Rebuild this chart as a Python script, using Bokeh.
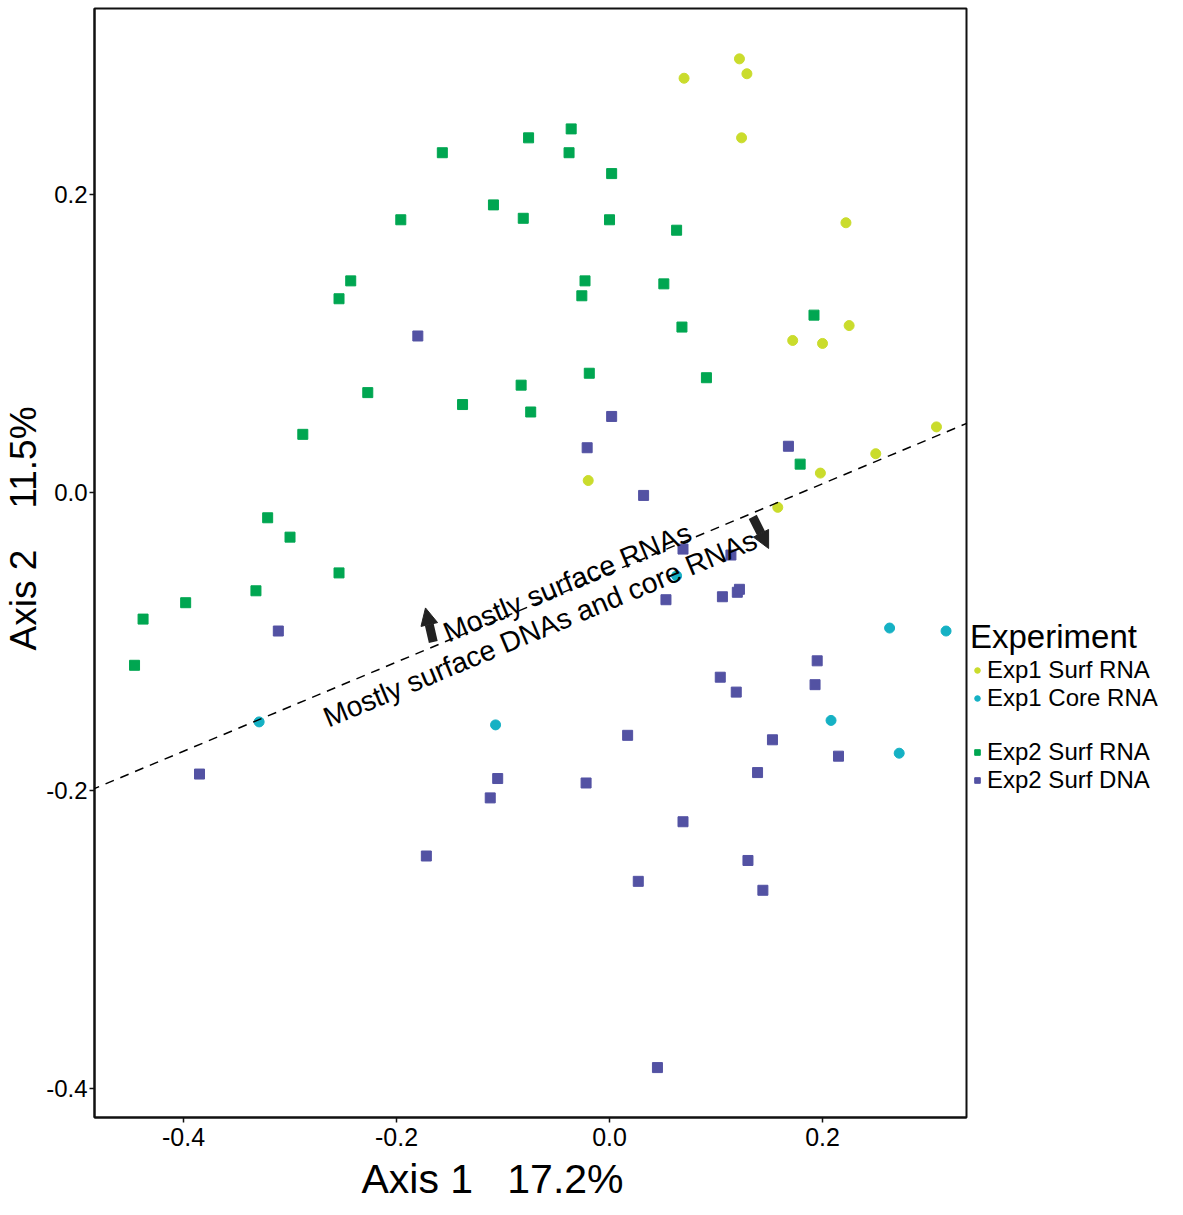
from bokeh.plotting import figure
from bokeh.models import (Range1d, FixedTicker, NumeralTickFormatter, Legend, LegendItem,
                          Slope, Label, Arrow, NormalHead, Title)
from bokeh.embed import file_html
from bokeh.resources import INLINE

# ---- data ----
exp1_surf_x = [0.070, 0.122, 0.129, 0.124, 0.222, 0.172, 0.200, 0.225, 0.307, 0.250, 0.198, 0.158, -0.020]
exp1_surf_y = [0.278, 0.291, 0.281, 0.238, 0.181, 0.102, 0.100, 0.112, 0.044, 0.026, 0.013, -0.010, 0.008]

exp1_core_x = [-0.329, -0.107, 0.063, 0.263, 0.316, 0.208, 0.272]
exp1_core_y = [-0.154, -0.156, -0.056, -0.091, -0.093, -0.153, -0.175]

exp2_rna_x = [-0.076, -0.157, -0.109, -0.081, -0.196, -0.243, -0.254, -0.083, -0.227, -0.138,
              -0.036, -0.038, 0.002, 0.000, 0.063, -0.023, -0.026, 0.051, 0.192, 0.068,
              -0.019, 0.091, -0.074, -0.288, -0.321, -0.300, -0.254, -0.332, -0.398, -0.438,
              -0.446, 0.179]
exp2_rna_y = [0.238, 0.228, 0.193, 0.184, 0.183, 0.142, 0.130, 0.072, 0.067, 0.059,
              0.244, 0.228, 0.214, 0.183, 0.176, 0.142, 0.132, 0.140, 0.119, 0.111,
              0.080, 0.077, 0.054, 0.039, -0.017, -0.030, -0.054, -0.066, -0.074, -0.085,
              -0.116, 0.019]

exp2_dna_x = [-0.180, -0.311, -0.385, -0.105, -0.112, 0.002, -0.021, 0.032, 0.168, 0.069,
              0.114, 0.053, 0.106, 0.120, 0.122, 0.195, 0.193, 0.104, 0.119, 0.017,
              0.153, 0.215, 0.139, -0.022, 0.069, -0.172, 0.130, 0.027, 0.144, 0.045]
exp2_dna_y = [0.105, -0.093, -0.189, -0.192, -0.205, 0.051, 0.030, -0.002, 0.031, -0.038,
              -0.042, -0.072, -0.070, -0.067, -0.065, -0.113, -0.129, -0.124, -0.134, -0.163,
              -0.166, -0.177, -0.188, -0.195, -0.221, -0.244, -0.247, -0.261, -0.267, -0.386]

tick_values = [-0.4, -0.2, 0.0, 0.2]
series_labels = ["Exp1 Surf RNA", "Exp1 Core RNA", "Exp2 Surf RNA", "Exp2 Surf DNA"]
series_colors = ["#cadc2c", "#15b1c4", "#00a651", "#5352a3"]
x_title = "Axis 1 \u00a0 17.2%"
y_title = "Axis 2 \u00a0\u00a0 11.5%"

# separating line (slope / intercept in data units)
line_gradient = 0.2992
line_intercept = -0.054

FONT = "Liberation Sans"

p = figure(frame_width=872, frame_height=1109, min_border_left=94, min_border_right=212,
           min_border_top=8, min_border_bottom=90,
           x_range=Range1d(-0.4836, 0.3352), y_range=Range1d(-0.4195, 0.3248),
           output_backend="svg", toolbar_location=None, tools="")

p.grid.visible = False
p.background_fill_color = "white"
p.border_fill_color = "white"
p.outline_line_color = "#111111"
p.outline_line_width = 2

for ax in (p.xaxis[0], p.yaxis[0]):
    ax.ticker = FixedTicker(ticks=tick_values)
    ax.formatter = NumeralTickFormatter(format="0.0")
    ax.axis_line_color = "#111111"
    ax.axis_line_width = 2
    ax.major_tick_line_color = "#111111"
    ax.major_tick_line_width = 1.5
    ax.major_tick_out = 5
    ax.major_tick_in = 0
    ax.minor_tick_line_color = None
    ax.major_label_text_font = FONT
    ax.major_label_text_color = "black"

p.xaxis[0].major_label_text_font_size = "25px"
p.xaxis[0].major_label_standoff = 5
p.yaxis[0].major_label_text_font_size = "24px"
p.yaxis[0].major_label_standoff = 2

# Axis titles (offset along the axis as in the original)
p.add_layout(Title(text=x_title, align="left", offset=267, standoff=11,
                   text_font=FONT, text_font_size="41px", text_font_style="normal",
                   text_color="black"), "below")
p.add_layout(Title(text=y_title, align="left", offset=467, standoff=0,
                   text_font=FONT, text_font_size="37px", text_font_style="normal",
                   text_color="black"), "left")

# Dashed separating line
p.add_layout(Slope(gradient=line_gradient, y_intercept=line_intercept,
                   line_color="black", line_width=1.5, line_dash="9 7"))

r1 = p.scatter(exp1_surf_x, exp1_surf_y, marker="circle", size=10, color=series_colors[0])
r2 = p.scatter(exp1_core_x, exp1_core_y, marker="circle", size=10, color=series_colors[1])
r3 = p.scatter(exp2_rna_x, exp2_rna_y, marker="square", size=10, color=series_colors[2])
r4 = p.scatter(exp2_dna_x, exp2_dna_y, marker="square", size=10, color=series_colors[3])
r_blank = p.scatter(x=[], y=[], marker="square", size=1, alpha=0)

# Annotations on the line
p.add_layout(Label(x=-0.1549, y=-0.0946, text="Mostly surface RNAs", angle=22.7, angle_units="deg",
                   text_font=FONT, text_font_size="28.5px", text_color="black",
                   text_align="left", text_baseline="alphabetic"))
p.add_layout(Label(x=-0.2676, y=-0.1517, text="Mostly surface DNAs and core RNAs", angle=22.7,
                   angle_units="deg", text_font=FONT, text_font_size="28.5px", text_color="black",
                   text_align="left", text_baseline="alphabetic"))
p.add_layout(Arrow(x_start=-0.1655, y_start=-0.1003, x_end=-0.1728, y_end=-0.0775,
                   line_color="#222222", line_width=9,
                   end=NormalHead(size=17, fill_color="#222222", line_color="#222222")))
p.add_layout(Arrow(x_start=0.1345, y_start=-0.0164, x_end=0.1494, y_end=-0.0376,
                   line_color="#222222", line_width=9,
                   end=NormalHead(size=17, fill_color="#222222", line_color="#222222")))

# Legend (right side), with a blank row separating the two experiments
leg = Legend(items=[LegendItem(label=series_labels[0], renderers=[r1]),
                    LegendItem(label=series_labels[1], renderers=[r2]),
                    LegendItem(label=" ", renderers=[r_blank]),
                    LegendItem(label=series_labels[2], renderers=[r3]),
                    LegendItem(label=series_labels[3], renderers=[r4])],
             title="Experiment", location=(4, 323))
leg.padding = 0
leg.margin = 0
leg.spacing = 0
leg.border_line_alpha = 0
leg.background_fill_alpha = 0
leg.label_text_font = FONT
leg.label_text_font_size = "24px"
leg.label_text_color = "black"
leg.label_height = 26
leg.glyph_height = 26
leg.glyph_width = 14
leg.label_standoff = 3
leg.title_text_font = FONT
leg.title_text_font_size = "33px"
leg.title_text_font_style = "normal"
leg.title_text_color = "black"
leg.title_standoff = 0
p.add_layout(leg, "right")

open("out.html", "w").write(file_html(p, INLINE))
